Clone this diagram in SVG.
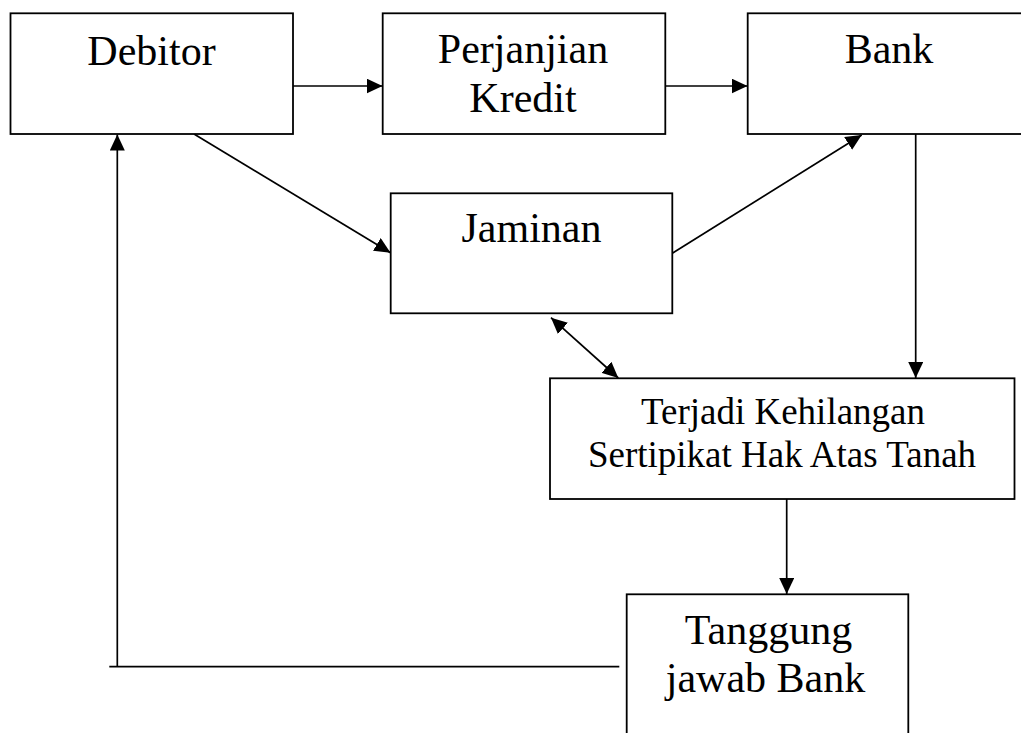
<svg xmlns="http://www.w3.org/2000/svg" width="1021" height="733" viewBox="0 0 1021 733">
<style>
.box{fill:#fff;stroke:#000;stroke-width:1.8}
.t{font-family:"Liberation Serif","Times New Roman",serif;font-size:42px;fill:#000;text-anchor:middle}
.s{font-size:37px}
.c{fill:none;stroke:#000;stroke-width:1.7}
</style>
<defs>
<marker id="ah" markerUnits="userSpaceOnUse" markerWidth="17" markerHeight="15" refX="16" refY="7.5" orient="auto-start-reverse" viewBox="0 0 17 15">
<path d="M0,0 L16,7.5 L0,15 z" fill="#000"/>
</marker>
</defs>
<rect width="1021" height="733" fill="#fff"/>
<g id="connectors">
<line class="c" x1="293" y1="86" x2="382.5" y2="86" marker-end="url(#ah)"/>
<line class="c" x1="665.3" y1="86" x2="747.5" y2="86" marker-end="url(#ah)"/>
<line class="c" x1="194" y1="134" x2="390.5" y2="252.7" marker-end="url(#ah)"/>
<line class="c" x1="672.3" y1="253.3" x2="861.7" y2="135" marker-end="url(#ah)"/>
<line class="c" x1="915.7" y1="134" x2="915.7" y2="378" marker-end="url(#ah)"/>
<line class="c" x1="551" y1="317.7" x2="618.3" y2="378" marker-start="url(#ah)" marker-end="url(#ah)"/>
<line class="c" x1="786.7" y1="499" x2="786.7" y2="594" marker-end="url(#ah)"/>
<polyline class="c" points="619.3,666.7 109.3,666.7"/>
<line class="c" x1="117.3" y1="666.7" x2="117.3" y2="134.5" marker-end="url(#ah)"/>
</g>
<g id="debitor">
<rect class="box" x="10.5" y="13.3" width="282.5" height="120.7"/>
<text class="t" x="151.5" y="64.5">Debitor</text>
</g>
<g id="perjanjian">
<rect class="box" x="382.7" y="13.3" width="282.6" height="120.7"/>
<text class="t" x="523" y="63.3">Perjanjian</text>
<text class="t" x="523" y="111.7">Kredit</text>
</g>
<g id="bank">
<rect class="box" x="747.7" y="13.3" width="283" height="120.7"/>
<text class="t" x="889" y="63">Bank</text>
</g>
<g id="jaminan">
<rect class="box" x="390.7" y="193.3" width="281.6" height="120"/>
<text class="t" x="531.5" y="242.3">Jaminan</text>
</g>
<g id="kehilangan">
<rect class="box" x="550" y="378.3" width="464.5" height="120.7"/>
<text class="t s" x="783" y="424">Terjadi Kehilangan</text>
<text class="t s" x="782" y="467">Sertipikat Hak Atas Tanah</text>
</g>
<g id="tanggungjawab">
<rect class="box" x="626.7" y="594.3" width="281.6" height="150"/>
<text class="t" x="768.5" y="644.3">Tanggung</text>
<text class="t" x="765.5" y="692.3">jawab Bank</text>
</g>
</svg>
